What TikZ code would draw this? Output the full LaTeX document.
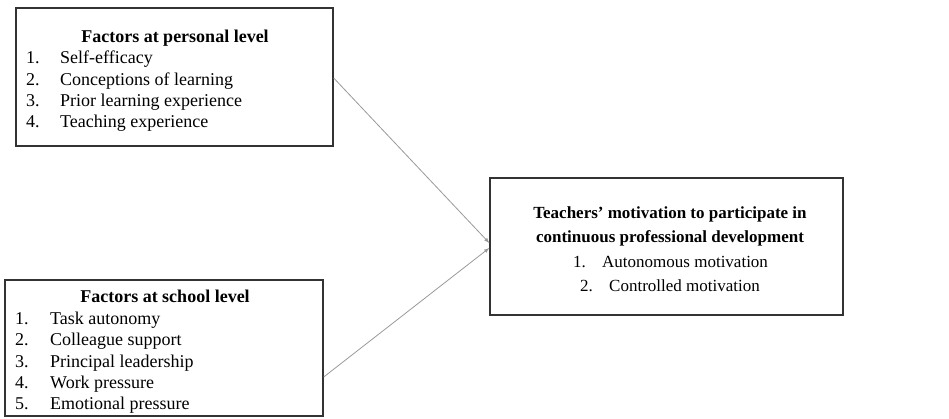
\documentclass[tikz,border=0pt]{standalone}
\usepackage{fontspec}
\setmainfont{Liberation Serif}
\begin{document}
\begin{tikzpicture}[x=1pt,y=-1pt,
  box/.style={draw=black!80,line width=1.4pt,rectangle,inner sep=0pt},
  txt/.style={inner sep=0pt,anchor=base west,font=\fontsize{18}{21}\selectfont},
  head/.style={inner sep=0pt,anchor=base,font=\fontsize{18}{21}\selectfont\bfseries},
  gtxt/.style={txt,font=\fontsize{17}{20}\selectfont},
  ghead/.style={head,font=\fontsize{17}{20}\selectfont\bfseries},
  link/.style={draw=black!40,line width=0.8pt,-latex}]
\useasboundingbox (0,0) rectangle (949,418);
\node[box,minimum width=317pt,minimum height=138pt] (personal) at (174.5,77) {};
\node[box,minimum width=318pt,minimum height=136pt] (school) at (164,348) {};
\node[box,minimum width=353pt,minimum height=137pt] (goal) at (666.5,246.5) {};
% personal level
\node[head] (ph) at (175,42) {Factors at personal level};
\node[txt] (pn1) at (26,63) {1.};
\node[txt] (pi1) at (60,63) {Self-efficacy};
\node[txt] (pn2) at (26,85) {2.};
\node[txt] (pi2) at (60,85) {Conceptions of learning};
\node[txt] (pn3) at (26,106) {3.};
\node[txt] (pi3) at (60,106) {Prior learning experience};
\node[txt] (pn4) at (26,127) {4.};
\node[txt] (pi4) at (60,127) {Teaching experience};
% school level
\node[head] (sh) at (165,302) {Factors at school level};
\node[txt] (sn1) at (15,324) {1.};
\node[txt] (si1) at (50,324) {Task autonomy};
\node[txt] (sn2) at (15,345) {2.};
\node[txt] (si2) at (50,345) {Colleague support};
\node[txt] (sn3) at (15,367) {3.};
\node[txt] (si3) at (50,367) {Principal leadership};
\node[txt] (sn4) at (15,388) {4.};
\node[txt] (si4) at (50,388) {Work pressure};
\node[txt] (sn5) at (15,409) {5.};
\node[txt] (si5) at (50,409) {Emotional pressure};
% motivation
\node[ghead] (gh1) at (670,218) {Teachers’ motivation to participate in};
\node[ghead] (gh2) at (670,242) {continuous professional development};
\node[gtxt] (gn1) at (573,267) {1.};
\node[gtxt] (gi1) at (602,267) {Autonomous motivation};
\node[gtxt] (gn2) at (580,291) {2.};
\node[gtxt] (gi2) at (609,291) {Controlled motivation};
\draw[link] ([yshift=-1pt]personal.east) -- ([yshift=3.5pt]goal.west);
\draw[link] ([yshift=-29pt]school.east) -- ([yshift=-1.5pt]goal.west);
\end{tikzpicture}
\end{document}
